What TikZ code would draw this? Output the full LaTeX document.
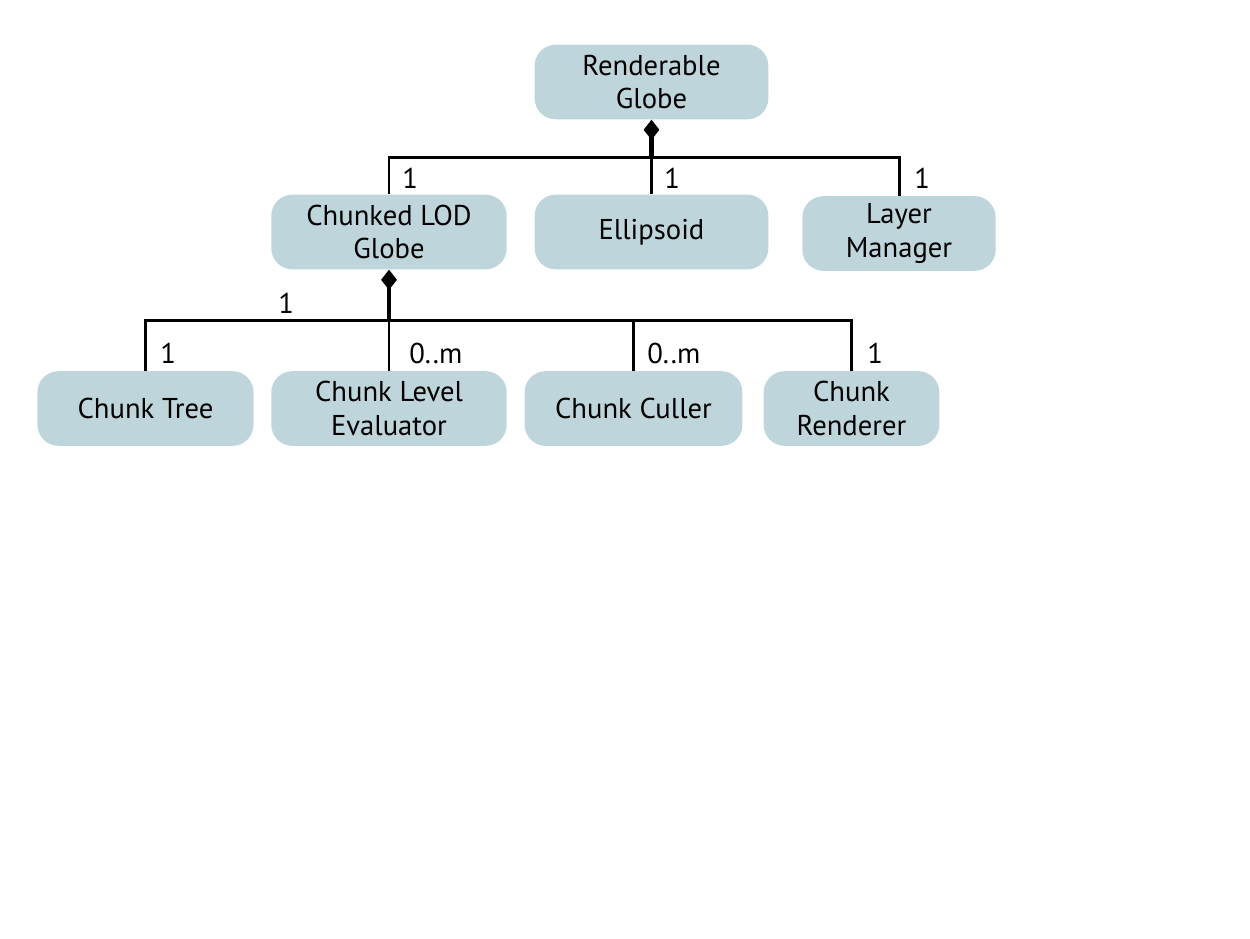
\documentclass[tikz,border=0pt]{standalone}
\usepackage{fontspec}
\setmainfont{PT Sans}
\usepackage{xcolor}
\usetikzlibrary{arrows.meta}
\definecolor{boxblue}{RGB}{190,214,219}

\begin{document}
\begin{tikzpicture}[x=0.02cm,y=-0.02cm,
classbox/.style={fill=boxblue,rounded corners=12pt,inner sep=0pt,
  minimum height=42.5pt,align=center,font=\fontsize{16.3}{19.2}\selectfont},
link/.style={line width=1.7pt,black},
owns/.style={link,line width=2.6pt,{Diamond[length=11.5pt,width=9pt]}-},
mult/.style={anchor=base west,inner sep=0pt,font=\fontsize{16.3}{19.2}\selectfont}]
%\draw[help lines] (0,0) grid (1250,938);
\useasboundingbox (0,0) rectangle (1250,938);

\node[classbox,minimum width=133pt] (renderable-globe) at (651.5,82) {Renderable\\Globe};
\node[classbox,minimum width=134pt] (chunked-lod) at (389,232) {Chunked LOD\\Globe};
\node[classbox,minimum width=133pt] (ellipsoid) at (651.5,232) {Ellipsoid};
\node[classbox,minimum width=110pt] (layer-manager) at (899,233.5) {Layer\\Manager};
\node[classbox,minimum width=123pt] (chunk-tree) at (145.5,408.5) {Chunk Tree};
\node[classbox,minimum width=134pt] (chunk-level) at (389,408.5) {Chunk Level\\Evaluator};
\node[classbox,minimum width=124pt] (chunk-culler) at (633.5,408.5) {Chunk Culler};
\node[classbox,minimum width=100pt] (chunk-renderer) at (851.5,408.5) {Chunk\\Renderer};

\coordinate (bus-top) at (651.5,157);
\coordinate (bus-low) at (389,320);

\draw[owns] (renderable-globe.south) -- (bus-top);
\draw[link] (bus-top) -| (chunked-lod.north);
\draw[link] (bus-top) -- (ellipsoid.north);
\draw[link] (bus-top) -| (layer-manager.north);

\draw[owns] (chunked-lod.south) -- (bus-low);
\draw[link] (bus-low) -| (chunk-tree.north);
\draw[link] (bus-low) -- (chunk-level.north);
\draw[link] (bus-low) -| (chunk-culler.north);
\draw[link] (bus-low) -| (chunk-renderer.north);

\node[mult] (m-lod) at (402,188) {1};
\node[mult] (m-ellipsoid) at (664,188) {1};
\node[mult] (m-layer) at (914,188) {1};
\node[mult] (m-bus) at (278,313) {1};
\node[mult] (m-tree) at (160,363) {1};
\node[mult] (m-level) at (409,363) {0..m};
\node[mult] (m-culler) at (647,363) {0..m};
\node[mult] (m-renderer) at (867,363) {1};
\end{tikzpicture}
\end{document}
